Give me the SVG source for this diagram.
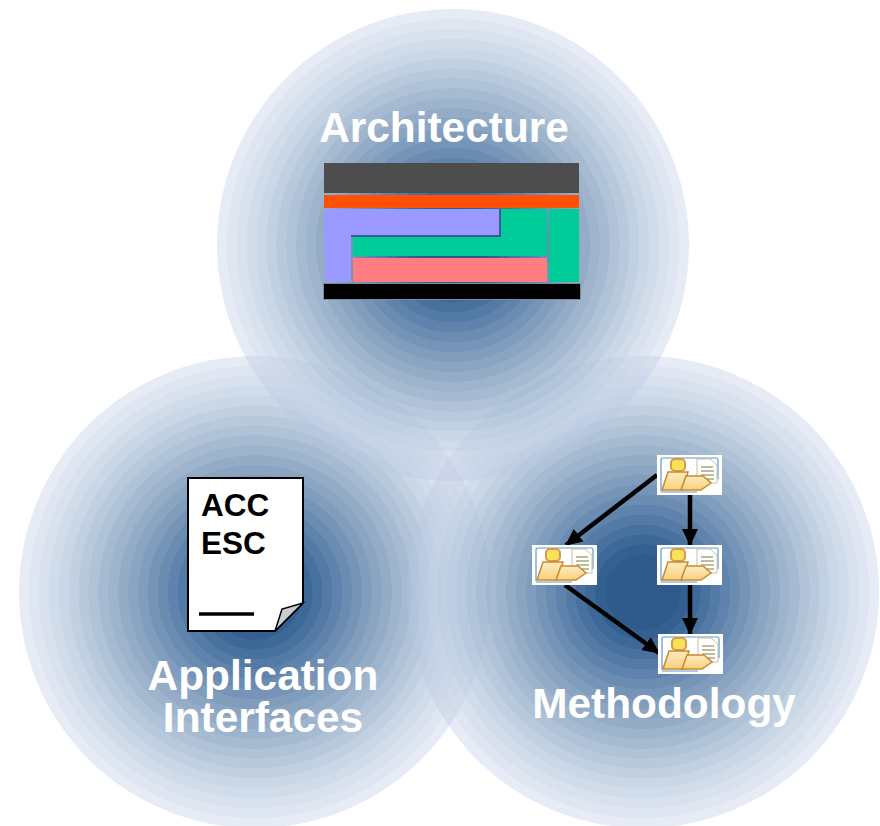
<svg xmlns="http://www.w3.org/2000/svg" xmlns:xlink="http://www.w3.org/1999/xlink" width="880" height="826" viewBox="0 0 880 826">
<style>
.lbl{font-family:"Liberation Sans",Arial,sans-serif;font-weight:700;fill:#fff;font-size:42.4px;text-anchor:middle}
.doc{font-family:"Liberation Sans",Arial,sans-serif;font-weight:700;fill:#000;font-size:31.5px}
.conn{stroke:#000;stroke-width:4.5;fill:none;marker-end:url(#arr)}
.y{fill:url(#yel);stroke:#c98a2e;stroke-width:1.5}
</style>
<defs>
<radialGradient id="g">
<stop offset="0" stop-color="#2f5b8c"/><stop offset=".16" stop-color="#2f5b8c"/>
<stop offset=".16" stop-color="#325e8f" stop-opacity=".99"/><stop offset=".202" stop-color="#325e8f" stop-opacity=".99"/>
<stop offset=".202" stop-color="#386595" stop-opacity=".975"/><stop offset=".244" stop-color="#386595" stop-opacity=".975"/>
<stop offset=".244" stop-color="#406b9a" stop-opacity=".96"/><stop offset=".286" stop-color="#406b9a" stop-opacity=".96"/>
<stop offset=".286" stop-color="#49729f" stop-opacity=".94"/><stop offset=".328" stop-color="#49729f" stop-opacity=".94"/>
<stop offset=".328" stop-color="#5279a5" stop-opacity=".925"/><stop offset=".37" stop-color="#5279a5" stop-opacity=".925"/>
<stop offset=".37" stop-color="#5c81aa" stop-opacity=".91"/><stop offset=".412" stop-color="#5c81aa" stop-opacity=".91"/>
<stop offset=".412" stop-color="#6487ae" stop-opacity=".89"/><stop offset=".454" stop-color="#6487ae" stop-opacity=".89"/>
<stop offset=".454" stop-color="#6e8fb4" stop-opacity=".875"/><stop offset=".496" stop-color="#6e8fb4" stop-opacity=".875"/>
<stop offset=".496" stop-color="#7796b8" stop-opacity=".86"/><stop offset=".538" stop-color="#7796b8" stop-opacity=".86"/>
<stop offset=".538" stop-color="#809cbc" stop-opacity=".84"/><stop offset=".58" stop-color="#809cbc" stop-opacity=".84"/>
<stop offset=".58" stop-color="#89a5c2" stop-opacity=".83"/><stop offset=".622" stop-color="#89a5c2" stop-opacity=".83"/>
<stop offset=".622" stop-color="#91abc7" stop-opacity=".81"/><stop offset=".664" stop-color="#91abc7" stop-opacity=".81"/>
<stop offset=".664" stop-color="#9ab2ce" stop-opacity=".79"/><stop offset=".706" stop-color="#9ab2ce" stop-opacity=".79"/>
<stop offset=".706" stop-color="#a4bad2" stop-opacity=".78"/><stop offset=".748" stop-color="#a4bad2" stop-opacity=".78"/>
<stop offset=".748" stop-color="#adc2d9" stop-opacity=".76"/><stop offset=".79" stop-color="#adc2d9" stop-opacity=".76"/>
<stop offset=".79" stop-color="#b7c9df" stop-opacity=".74"/><stop offset=".832" stop-color="#b7c9df" stop-opacity=".74"/>
<stop offset=".832" stop-color="#bdcde1" stop-opacity=".7"/><stop offset=".874" stop-color="#bdcde1" stop-opacity=".7"/>
<stop offset=".874" stop-color="#c3d1e5" stop-opacity=".65"/><stop offset=".916" stop-color="#c3d1e5" stop-opacity=".65"/>
<stop offset=".916" stop-color="#bfcde3" stop-opacity=".5"/><stop offset=".958" stop-color="#bfcde3" stop-opacity=".5"/>
<stop offset=".958" stop-color="#b8c6e2" stop-opacity=".35"/><stop offset="1" stop-color="#b8c6e2" stop-opacity=".35"/>
</radialGradient>
<linearGradient id="yel" x1="0" y1="0" x2="0" y2="1"><stop offset="0" stop-color="#fdebc0"/><stop offset="1" stop-color="#f9d07c"/></linearGradient>
<marker id="arr" markerUnits="userSpaceOnUse" markerWidth="17" markerHeight="16" refX="16" refY="8" orient="auto"><path d="M0 0L17 8L0 16Z" fill="#000"/></marker>
<g id="ico">
<rect width="65" height="40" fill="#fff"/>
<path d="M4 36V5Q4 3 6 3H60Q61 3 61 5V24M4 37H40" fill="none" stroke="#5a9ad0" stroke-width="1.2"/>
<path d="M40 4H53L60 10V28H40Z" fill="#fff" stroke="#c9c09a"/>
<path d="M44 12H56M44 16H57M44 20H57M44 24H57" stroke="#a8a878" stroke-width="1.3"/>
<rect x="14" y="4" width="14" height="12" rx="4" fill="#f7e25a" stroke="#d69a4a" stroke-width="2"/>
<path d="M11 17H31L26 35H5Z" class="y"/>
<path d="M29 21H46L54 28L44 35H24Z" class="y"/>
</g>
</defs>
<g id="circle-left"><circle cx="255" cy="592" r="236" fill="url(#g)"/></g>
<g id="circle-right"><circle cx="643" cy="592" r="236" fill="url(#g)"/></g>
<g id="circle-top"><circle cx="453" cy="245" r="236" fill="url(#g)"/></g>
<g id="architecture">
<rect x="324" y="163" width="255" height="30" fill="#4d4d4d"/>
<rect x="324" y="195" width="255" height="13" fill="#ff5005"/>
<rect x="549" y="209" width="30" height="73" fill="#00cc99"/>
<path d="M501 209H547V256H353V236H501Z" fill="#00cc99"/>
<rect x="353" y="258" width="194" height="24" fill="#ff7c80"/>
<path d="M324 209H499V235H351V282H325Z" fill="#9999ff"/>
<path d="M500 209V236H351" fill="none" stroke="#3a5a9a" stroke-width="2"/>
<rect x="323.5" y="283.500" width="257" height="16" fill="#000" stroke="#7a8ca0"/>
<text class="lbl" x="444" y="142">Architecture</text>
</g>
<g id="application-interfaces">
<path d="M188 478H303V603L275 631H188Z" fill="#fff" stroke="#000" stroke-width="2"/>
<path d="M275 631L282 609L303 603Z" fill="#ccc" stroke="#000" stroke-width="1.5"/>
<path d="M199 614H254" stroke="#000" stroke-width="3.500"/>
<text class="doc" x="201" y="516">ACC</text>
<text class="doc" x="201" y="554">ESC</text>
<text class="lbl" x="263" y="690">Application</text>
<text class="lbl" x="263" y="732">Interfaces</text>
</g>
<g id="connectors">
<path class="conn" d="M657 475L566 545"/>
<path class="conn" d="M690 495V545"/>
<path class="conn" d="M565 585L659 653"/>
<path class="conn" d="M690 584V634"/>
</g>
<g id="methodology">
<use xlink:href="#ico" href="#ico" x="657" y="455"/>
<use xlink:href="#ico" href="#ico" x="532" y="545"/>
<use xlink:href="#ico" href="#ico" x="657" y="545"/>
<use xlink:href="#ico" href="#ico" x="658" y="634"/>
<text class="lbl" x="664" y="718">Methodology</text>
</g>
</svg>
